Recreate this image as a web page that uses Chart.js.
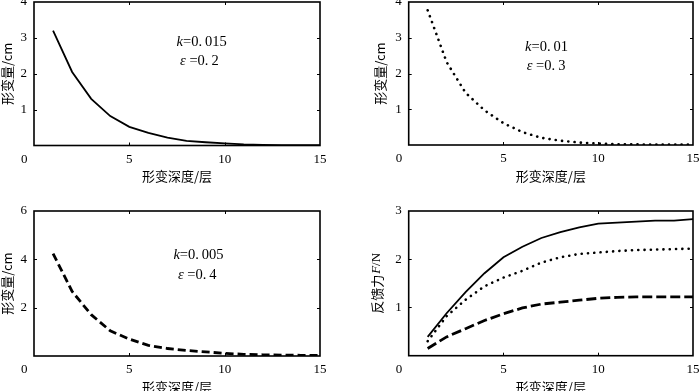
<!DOCTYPE html>
<html><head><meta charset="utf-8">
<script src="https://cdn.jsdelivr.net/npm/chart.js@4.4.0/dist/chart.umd.min.js"></script>
<style>
html,body{margin:0;padding:0;background:#fff;overflow:hidden;width:700px;height:391px;position:relative;}
canvas{position:absolute;display:block;}
</style></head><body>
<canvas id="c1" width="350" height="195" style="left:0;top:0;width:350px;height:195px"></canvas>
<canvas id="c2" width="350" height="195" style="left:350px;top:0;width:350px;height:195px"></canvas>
<canvas id="c3" width="350" height="210" style="left:0;top:195px;width:350px;height:210px"></canvas>
<canvas id="c4" width="350" height="210" style="left:350px;top:195px;width:350px;height:210px"></canvas>
<script>
// ---- data ----
const depth = [1,2,3,4,5,6,7,8,9,10,11,12,13,14,15];
const defK015 = [3.20,2.05,1.30,0.82,0.52,0.35,0.22,0.13,0.09,0.06,0.03,0.02,0.01,0.01,0.01];
const defK010 = [3.77,2.32,1.46,0.97,0.61,0.36,0.20,0.12,0.07,0.04,0.02,0.02,0.01,0.01,0.01];
const defK005 = [4.24,2.67,1.71,1.04,0.70,0.44,0.31,0.23,0.17,0.11,0.07,0.05,0.04,0.03,0.03];
const forceK015 = [0.39,0.88,1.32,1.71,2.04,2.26,2.44,2.56,2.66,2.74,2.76,2.78,2.80,2.80,2.83];
const forceK010 = [0.30,0.82,1.16,1.44,1.62,1.76,1.93,2.04,2.11,2.14,2.17,2.19,2.20,2.21,2.22];
const forceK005 = [0.15,0.39,0.56,0.73,0.87,0.99,1.07,1.11,1.15,1.19,1.21,1.22,1.22,1.22,1.22];
const xTicks = [0,5,10,15];
const xTitle = '形变深度/层';
const yTitleDef = '形变量/cm';
const notes1 = ['k','=0.015','0.2'];
const notes2 = ['k','=0.01','0.3'];
const notes3 = ['k','=0.005','0.4'];

const SERIF = "'Liberation Serif','DejaVu Serif',serif";
const CJK = "'Noto Sans CJK SC','Noto Sans',sans-serif";

function pts(ys){ return depth.map((x,i)=>({x:x,y:ys[i]})); }

const boxPlugin = {
  id:'box',
  afterDatasetsDraw(chart){
    const {ctx, chartArea:a, scales:{x,y}} = chart;
    ctx.save();
    ctx.strokeStyle='#000';
    ctx.lineWidth=1.6;
    ctx.strokeRect(a.left,a.top,a.right-a.left,a.bottom-a.top);
    ctx.lineWidth=1;
    const tl=3;
    ctx.beginPath();
    x.ticks.forEach(t=>{
      if(t.value<=x.min||t.value>=x.max) return;
      const px=Math.round(x.getPixelForValue(t.value))+0.5;
      ctx.moveTo(px,a.bottom); ctx.lineTo(px,a.bottom-tl);
      ctx.moveTo(px,a.top); ctx.lineTo(px,a.top+tl);
    });
    y.ticks.forEach(t=>{
      if(t.value<=y.min||t.value>=y.max) return;
      const py=Math.round(y.getPixelForValue(t.value))+0.5;
      ctx.moveTo(a.left,py); ctx.lineTo(a.left+tl,py);
      ctx.moveTo(a.right,py); ctx.lineTo(a.right-tl,py);
    });
    ctx.stroke();
    ctx.restore();
  }
};

function drawRuns(ctx, x, y, runs){
  runs.forEach(r=>{
    ctx.font = r.font;
    x += (r.gap||0);
    ctx.fillText(r.t, x, y);
    x += ctx.measureText(r.t).width;
  });
}

const notePlugin = {
  id:'note',
  afterDraw(chart, args, opts){
    if(!opts || !opts.k) return;
    const {ctx, scales:{x,y}} = chart;
    ctx.save();
    ctx.fillStyle='#000';
    ctx.textBaseline='middle';
    const f = '14.5px '+SERIF, fi = 'italic 14.5px '+SERIF;
    const v = opts.k[1];
    const dot = v.indexOf('.');
    drawRuns(ctx, x.getPixelForValue(opts.pos[0]), y.getPixelForValue(opts.pos[1]), [
      {t:opts.k[0], font:fi},
      {t:v.slice(0,dot+1), font:f},
      {t:v.slice(dot+1), font:f, gap:3}
    ]);
    const e = opts.k[2];
    const d2 = e.indexOf('.');
    drawRuns(ctx, x.getPixelForValue(opts.pos[2]), y.getPixelForValue(opts.pos[3]), [
      {t:'ε', font:fi},
      {t:' =', font:f},
      {t:e.slice(0,d2+1), font:f},
      {t:e.slice(d2+1), font:f, gap:3}
    ]);
    ctx.restore();
  }
};

const yTitlePlugin = {
  id:'ytitle',
  afterDraw(chart, args, opts){
    if(!opts || !opts.runs) return;
    const {ctx, chartArea:a} = chart;
    ctx.save();
    ctx.fillStyle='#000';
    ctx.textBaseline='middle';
    let total=0;
    opts.runs.forEach(r=>{ctx.font=r.font; total+=ctx.measureText(r.t).width+(r.gap||0);});
    ctx.translate(opts.x, (a.top+a.bottom)/2);
    ctx.rotate(-Math.PI/2);
    drawRuns(ctx, -total/2, 0, opts.runs);
    ctx.restore();
  }
};

function makeChart(id, o){
  const datasets = o.series.map(s=>({
    data: pts(s.data),
    borderColor:'#000',
    borderWidth:s.w,
    borderDash:s.dash||[],
    borderCapStyle:s.cap||'butt',
    pointRadius:0,
    tension:0,
    fill:false
  }));
  return new Chart(document.getElementById(id), {
    type:'line',
    data:{datasets},
    plugins:[boxPlugin, notePlugin, yTitlePlugin],
    options:{
      responsive:false,
      animation:false,
      events:[],
      layout:{padding:{left:0, top:o.top, right:o.right, bottom:0}},
      plugins:{
        legend:{display:false}, tooltip:{enabled:false},
        note:o.note||{}, ytitle:o.ytitle||{}
      },
      scales:{
        x:{
          type:'linear', min:0, max:15,
          afterBuildTicks:(s)=>{ s.ticks = xTicks.map(v=>({value:v})); },
          ticks:{
            color:'#000', font:{family:SERIF, size:13}, padding:6, maxRotation:0,
            callback:(v)=> v===0 ? '0      ' : String(v)
          },
          grid:{display:false, drawTicks:false},
          border:{display:false},
          title:{display:true, text:xTitle, color:'#000', font:{family:CJK, size:13}, padding:{top:0,bottom:o.xtPad}},
          afterFit:(s)=>{ s.height = o.xh; s.paddingLeft=0; s.paddingRight=0; }
        },
        y:{
          type:'linear', min:0, max:o.ymax,
          ticks:{
            color:'#000', font:{family:SERIF, size:13}, padding:7, stepSize:o.ystep,
            callback:(v)=> v===0 ? '' : String(v)
          },
          grid:{display:false, drawTicks:false},
          border:{display:false},
          title:{display:!o.ytitle, text:yTitleDef, color:'#000', font:{family:CJK, size:13}, padding:{top:o.ytPad,bottom:0}},
          afterFit:(s)=>{ s.width = o.yw; s.paddingTop=0; s.paddingBottom=0; }
        }
      }
    }
  });
}

makeChart('c1', {
  series:[{data:defK015, w:1.8}],
  top:2, right:30, yw:34, xh:49.5, xtPad:11, ytPad:-1, ymax:4, ystep:1,
  note:{k:notes1, pos:[7.48,2.87,7.66,2.34]}
});
makeChart('c2', {
  series:[{data:defK010, w:2.6, dash:[0.1,6.2], cap:'round'}],
  top:2, right:7, yw:58.7, xh:50, xtPad:11, ytPad:22, ymax:4, ystep:1,
  note:{k:notes2, pos:[6.14,2.73,6.23,2.21]}
});
makeChart('c3', {
  series:[{data:defK005, w:2.8, dash:[8,4]}],
  top:16, right:30, yw:34, xh:49, xtPad:10, ytPad:-1, ymax:6, ystep:2,
  note:{k:notes3, pos:[7.31,4.18,7.55,3.35]}
});
makeChart('c4', {
  series:[
    {data:forceK015, w:1.8},
    {data:forceK010, w:2.6, dash:[0.1,6.2], cap:'round'},
    {data:forceK005, w:2.8, dash:[10,4]}
  ],
  top:16, right:7, yw:58.7, xh:49.3, xtPad:10, ytPad:19, ymax:3, ystep:1,
  ytitle:{x:27, runs:[
    {t:'反馈力', font:'13px '+CJK},
    {t:'F', font:'italic 13px '+SERIF, gap:1},
    {t:'/N', font:'13px '+SERIF}
  ]}
});
</script>
</body></html>
